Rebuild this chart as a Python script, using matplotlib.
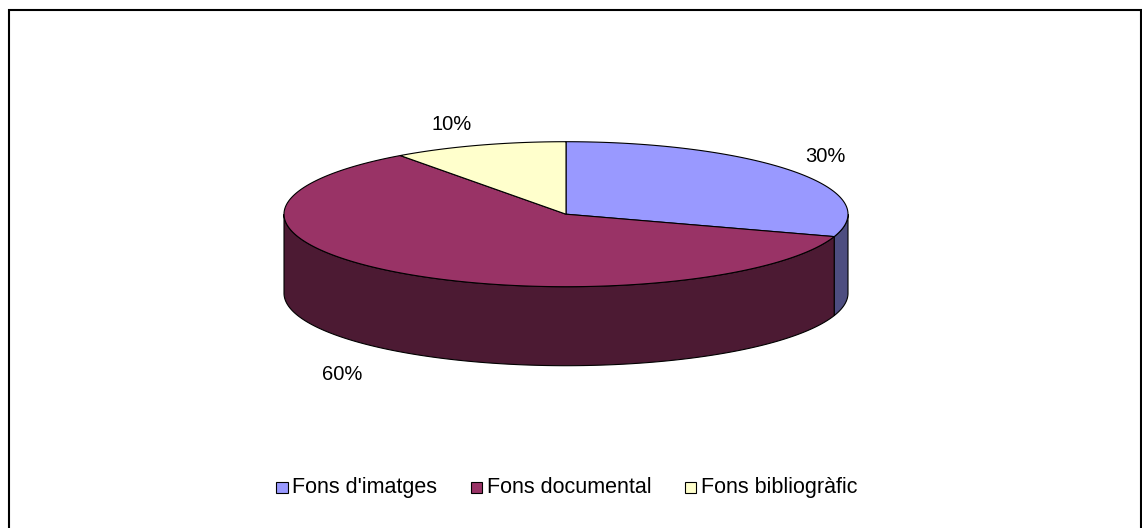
import numpy as np
import matplotlib
matplotlib.use("Agg")
import matplotlib.pyplot as plt
from matplotlib.patches import Polygon, Rectangle
from matplotlib.lines import Line2D

# ---- data ----
categories = ["Fons d'imatges", "Fons documental", "Fons bibliogràfic"]
values = [30, 60, 10]
pct_labels = ["30%", "60%", "10%"]

# ---- style ----
top_colors = ["#9999FF", "#993366", "#FFFFCC"]
side_colors = ["#4D4D80", "#4C1A33", "#80806A"]
label_offsets = [(31, -15), (-58, 23), (-27, -21)]  # px offset from rim at mid-angle

W, H = 1142, 528
fig = plt.figure(figsize=(W / 100, H / 100), dpi=100)
ax = fig.add_axes([0, 0, 1, 1])
ax.set_xlim(0, W)
ax.set_ylim(H, 0)
ax.axis("off")

FONT = "Liberation Sans"

# pie geometry (pixels)
cx, cy, rx, ry, depth = 566, 214.2, 282, 72.5, 79


def rim(t):
    # t: angle in degrees, clockwise from 12 o'clock
    r = np.radians(t)
    return cx + rx * np.sin(r), cy - ry * np.cos(r)


total = float(sum(values))
bounds = np.concatenate([[0], np.cumsum(values) / total * 360.0])

# side walls (front half: 90..270 deg)
for i in range(len(values)):
    a0, a1 = max(bounds[i], 90.0), min(bounds[i + 1], 270.0)
    if a1 <= a0:
        continue
    ts = np.linspace(a0, a1, 200)
    xs, ys = rim(ts)
    pts = np.column_stack([np.concatenate([xs, xs[::-1]]),
                           np.concatenate([ys, ys[::-1] + depth])])
    ax.add_patch(Polygon(pts, closed=True, facecolor=side_colors[i],
                         edgecolor="black", linewidth=0.8, zorder=2))

# top faces
for i in range(len(values)):
    ts = np.linspace(bounds[i], bounds[i + 1], 300)
    xs, ys = rim(ts)
    pts = np.column_stack([np.concatenate([[cx], xs]),
                           np.concatenate([[cy], ys])])
    ax.add_patch(Polygon(pts, closed=True, facecolor=top_colors[i],
                         edgecolor="black", linewidth=0.8, zorder=3))

# percentage labels
for i in range(len(values)):
    mid = (bounds[i] + bounds[i + 1]) / 2
    x, y = rim(mid)
    if np.cos(np.radians(mid)) < 0:
        y += depth
    dx, dy = label_offsets[i]
    ax.text(x + dx, y + dy, pct_labels[i], ha="center", va="center",
            fontsize=14.5, family=FONT, color="black", zorder=4)

# chart frame (left, top, right)
ax.add_line(Line2D([9, 9, W - 1, W - 1], [H + 5, 10, 10, H + 5],
                   color="black", linewidth=1.5, solid_joinstyle="miter",
                   clip_on=False, zorder=5))

# legend (laid out manually on a common baseline)
renderer = fig.canvas.get_renderer()
sq, gap_in, gap_out, base = 11.5, 5, 33, 493
texts = [ax.text(0, base, c, ha="left", va="baseline", family=FONT,
                 fontsize=15.5, zorder=4) for c in categories]
widths = [t.get_window_extent(renderer).width for t in texts]
total_w = sum(sq + gap_in + w for w in widths) + gap_out * (len(widths) - 1)
x = round(cx + 0.5 - total_w / 2)
for t, w, c in zip(texts, widths, top_colors):
    ax.add_patch(Rectangle((x, base - sq), sq, sq, facecolor=c,
                           edgecolor="black", linewidth=0.8, zorder=4))
    t.set_x(x + sq + gap_in)
    x += sq + gap_in + w + gap_out

fig.savefig("out.png", dpi=100)
